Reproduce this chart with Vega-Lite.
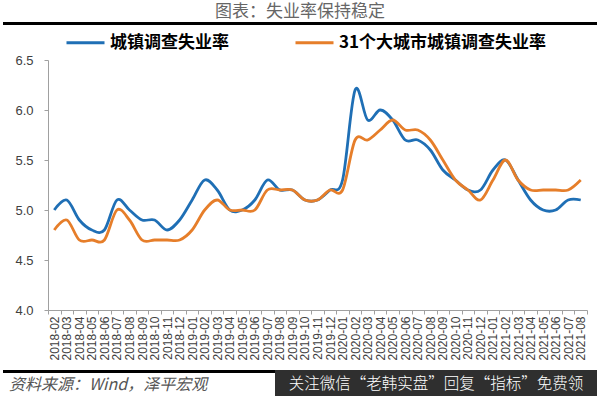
{
  "$schema": "https://vega.github.io/schema/vega-lite/v6.json",
  "background": "white",
  "padding": {"left": 3, "right": 3, "top": 3, "bottom": 0},
  "title": {"text": "图表：失业率保持稳定", "fontSize": 17, "font": "Noto Sans CJK SC", "fontWeight": "normal", "color": "#666666", "anchor": "middle", "offset": 1},
  "datasets": {
    "ue": [
      {"month": "2018-02", "series": "城镇调查失业率", "value": 5.0},
      {"month": "2018-03", "series": "城镇调查失业率", "value": 5.1},
      {"month": "2018-04", "series": "城镇调查失业率", "value": 4.9},
      {"month": "2018-05", "series": "城镇调查失业率", "value": 4.8},
      {"month": "2018-06", "series": "城镇调查失业率", "value": 4.8},
      {"month": "2018-07", "series": "城镇调查失业率", "value": 5.1},
      {"month": "2018-08", "series": "城镇调查失业率", "value": 5.0},
      {"month": "2018-09", "series": "城镇调查失业率", "value": 4.9},
      {"month": "2018-10", "series": "城镇调查失业率", "value": 4.9},
      {"month": "2018-11", "series": "城镇调查失业率", "value": 4.8},
      {"month": "2018-12", "series": "城镇调查失业率", "value": 4.9},
      {"month": "2019-01", "series": "城镇调查失业率", "value": 5.1},
      {"month": "2019-02", "series": "城镇调查失业率", "value": 5.3},
      {"month": "2019-03", "series": "城镇调查失业率", "value": 5.2},
      {"month": "2019-04", "series": "城镇调查失业率", "value": 5.0},
      {"month": "2019-05", "series": "城镇调查失业率", "value": 5.0},
      {"month": "2019-06", "series": "城镇调查失业率", "value": 5.1},
      {"month": "2019-07", "series": "城镇调查失业率", "value": 5.3},
      {"month": "2019-08", "series": "城镇调查失业率", "value": 5.2},
      {"month": "2019-09", "series": "城镇调查失业率", "value": 5.2},
      {"month": "2019-10", "series": "城镇调查失业率", "value": 5.1},
      {"month": "2019-11", "series": "城镇调查失业率", "value": 5.1},
      {"month": "2019-12", "series": "城镇调查失业率", "value": 5.2},
      {"month": "2020-01", "series": "城镇调查失业率", "value": 5.3},
      {"month": "2020-02", "series": "城镇调查失业率", "value": 6.2},
      {"month": "2020-03", "series": "城镇调查失业率", "value": 5.9},
      {"month": "2020-04", "series": "城镇调查失业率", "value": 6.0},
      {"month": "2020-05", "series": "城镇调查失业率", "value": 5.9},
      {"month": "2020-06", "series": "城镇调查失业率", "value": 5.7},
      {"month": "2020-07", "series": "城镇调查失业率", "value": 5.7},
      {"month": "2020-08", "series": "城镇调查失业率", "value": 5.6},
      {"month": "2020-09", "series": "城镇调查失业率", "value": 5.4},
      {"month": "2020-10", "series": "城镇调查失业率", "value": 5.3},
      {"month": "2020-11", "series": "城镇调查失业率", "value": 5.2},
      {"month": "2020-12", "series": "城镇调查失业率", "value": 5.2},
      {"month": "2021-01", "series": "城镇调查失业率", "value": 5.4},
      {"month": "2021-02", "series": "城镇调查失业率", "value": 5.5},
      {"month": "2021-03", "series": "城镇调查失业率", "value": 5.3},
      {"month": "2021-04", "series": "城镇调查失业率", "value": 5.1},
      {"month": "2021-05", "series": "城镇调查失业率", "value": 5.0},
      {"month": "2021-06", "series": "城镇调查失业率", "value": 5.0},
      {"month": "2021-07", "series": "城镇调查失业率", "value": 5.1},
      {"month": "2021-08", "series": "城镇调查失业率", "value": 5.1},
      {"month": "2018-02", "series": "31个大城市城镇调查失业率", "value": 4.8},
      {"month": "2018-03", "series": "31个大城市城镇调查失业率", "value": 4.9},
      {"month": "2018-04", "series": "31个大城市城镇调查失业率", "value": 4.7},
      {"month": "2018-05", "series": "31个大城市城镇调查失业率", "value": 4.7},
      {"month": "2018-06", "series": "31个大城市城镇调查失业率", "value": 4.7},
      {"month": "2018-07", "series": "31个大城市城镇调查失业率", "value": 5.0},
      {"month": "2018-08", "series": "31个大城市城镇调查失业率", "value": 4.9},
      {"month": "2018-09", "series": "31个大城市城镇调查失业率", "value": 4.7},
      {"month": "2018-10", "series": "31个大城市城镇调查失业率", "value": 4.7},
      {"month": "2018-11", "series": "31个大城市城镇调查失业率", "value": 4.7},
      {"month": "2018-12", "series": "31个大城市城镇调查失业率", "value": 4.7},
      {"month": "2019-01", "series": "31个大城市城镇调查失业率", "value": 4.8},
      {"month": "2019-02", "series": "31个大城市城镇调查失业率", "value": 5.0},
      {"month": "2019-03", "series": "31个大城市城镇调查失业率", "value": 5.1},
      {"month": "2019-04", "series": "31个大城市城镇调查失业率", "value": 5.0},
      {"month": "2019-05", "series": "31个大城市城镇调查失业率", "value": 5.0},
      {"month": "2019-06", "series": "31个大城市城镇调查失业率", "value": 5.0},
      {"month": "2019-07", "series": "31个大城市城镇调查失业率", "value": 5.2},
      {"month": "2019-08", "series": "31个大城市城镇调查失业率", "value": 5.2},
      {"month": "2019-09", "series": "31个大城市城镇调查失业率", "value": 5.2},
      {"month": "2019-10", "series": "31个大城市城镇调查失业率", "value": 5.1},
      {"month": "2019-11", "series": "31个大城市城镇调查失业率", "value": 5.1},
      {"month": "2019-12", "series": "31个大城市城镇调查失业率", "value": 5.2},
      {"month": "2020-01", "series": "31个大城市城镇调查失业率", "value": 5.2},
      {"month": "2020-02", "series": "31个大城市城镇调查失业率", "value": 5.7},
      {"month": "2020-03", "series": "31个大城市城镇调查失业率", "value": 5.7},
      {"month": "2020-04", "series": "31个大城市城镇调查失业率", "value": 5.8},
      {"month": "2020-05", "series": "31个大城市城镇调查失业率", "value": 5.9},
      {"month": "2020-06", "series": "31个大城市城镇调查失业率", "value": 5.8},
      {"month": "2020-07", "series": "31个大城市城镇调查失业率", "value": 5.8},
      {"month": "2020-08", "series": "31个大城市城镇调查失业率", "value": 5.7},
      {"month": "2020-09", "series": "31个大城市城镇调查失业率", "value": 5.5},
      {"month": "2020-10", "series": "31个大城市城镇调查失业率", "value": 5.3},
      {"month": "2020-11", "series": "31个大城市城镇调查失业率", "value": 5.2},
      {"month": "2020-12", "series": "31个大城市城镇调查失业率", "value": 5.1},
      {"month": "2021-01", "series": "31个大城市城镇调查失业率", "value": 5.3},
      {"month": "2021-02", "series": "31个大城市城镇调查失业率", "value": 5.5},
      {"month": "2021-03", "series": "31个大城市城镇调查失业率", "value": 5.3},
      {"month": "2021-04", "series": "31个大城市城镇调查失业率", "value": 5.2},
      {"month": "2021-05", "series": "31个大城市城镇调查失业率", "value": 5.2},
      {"month": "2021-06", "series": "31个大城市城镇调查失业率", "value": 5.2},
      {"month": "2021-07", "series": "31个大城市城镇调查失业率", "value": 5.2},
      {"month": "2021-08", "series": "31个大城市城镇调查失业率", "value": 5.3}
    ],
    "footer": [
      {"t": "关注微信“老韩实盘”回复“指标”免费领"}
    ]
  },
  "spacing": 29,
  "vconcat": [
    {
      "spacing": 0,
      "hconcat": [
        {
          "width": 594,
          "height": 3,
          "data": {"values": [{}]},
          "view": {"fill": "#000000", "stroke": null},
          "mark": {"type": "rect", "color": "#000000"},
          "encoding": {
            "x": {"datum": 0, "type": "quantitative", "scale": {"domain": [0, 1], "nice": false, "zero": false}, "axis": null},
            "x2": {"datum": 1},
            "y": {"datum": 0, "type": "quantitative", "scale": {"domain": [0, 1], "nice": false, "zero": false}, "axis": null},
            "y2": {"datum": 1}
          }
        }
      ]
    },
    {
      "spacing": 9,
      "vconcat": [
        {
          "spacing": 0,
          "hconcat": [
            {
              "width": 1,
              "height": 250,
              "data": {"values": []},
              "mark": {"type": "rect", "opacity": 0},
              "encoding": {}
            },
            {
              "width": 539,
              "height": 250,
              "data": {"name": "ue"},
              "mark": {"type": "line", "interpolate": "cardinal", "strokeWidth": 2.8},
              "encoding": {
                "x": {
                  "field": "month",
                  "type": "ordinal",
                  "bandPosition": 0.5,
                  "scale": {"type": "band", "paddingInner": 0, "paddingOuter": 0},
                  "axis": {
                    "title": null,
                    "labelAngle": 270,
                    "tickBand": "extent",
                    "labelFont": "Liberation Sans",
                    "labelFontSize": 12,
                    "labelColor": "#404040",
                    "labelPadding": 2,
                    "domainColor": "#a0a0a0",
                    "tickColor": "#a0a0a0",
                    "tickSize": 4,
                    "labelOverlap": false
                  }
                },
                "y": {
                  "field": "value",
                  "type": "quantitative",
                  "scale": {"domain": [4, 6.5], "zero": false, "nice": false},
                  "axis": {
                    "title": null,
                    "values": [4, 4.5, 5, 5.5, 6, 6.5],
                    "format": ".1f",
                    "grid": false,
                    "labelFont": "Liberation Sans",
                    "labelFontSize": 13,
                    "labelColor": "#404040",
                    "labelPadding": 11,
                    "domainColor": "#a0a0a0",
                    "tickColor": "#a0a0a0",
                    "tickSize": 4,
                    "minExtent": 44,
                    "maxExtent": 44
                  }
                },
                "color": {
                  "field": "series",
                  "type": "nominal",
                  "scale": {"domain": ["城镇调查失业率", "31个大城市城镇调查失业率"], "range": ["#1f6fb5", "#e67e2a"]},
                  "legend": {
                    "orient": "none",
                    "legendX": 62,
                    "legendY": 0,
                    "direction": "horizontal",
                    "title": null,
                    "symbolType": "stroke",
                    "symbolSize": 1444,
                    "symbolStrokeWidth": 3,
                    "labelFont": "Noto Sans CJK SC",
                    "labelFontSize": 17,
                    "labelFontWeight": "bold",
                    "labelColor": "#000000",
                    "labelOffset": 4,
                    "columnPadding": 60,
                    "labelLimit": 400
                  }
                }
              }
            }
          ]
        },
        {
          "spacing": 0,
          "hconcat": [
            {
              "width": 272,
              "height": 3,
              "data": {"values": []},
              "view": {"fill": "#000000", "stroke": null},
              "mark": {"type": "rect", "opacity": 0},
              "encoding": {},
              "title": {"text": "资料来源：Wind，泽平宏观", "orient": "bottom", "anchor": "start", "dx": 6, "fontSize": 16, "fontStyle": "italic", "fontWeight": "normal", "font": "Noto Sans CJK SC", "color": "#555555", "offset": 4}
            },
            {
              "width": 322,
              "height": 28,
              "data": {"name": "footer"},
              "view": {"fill": "#2f2f2f", "stroke": null},
              "mark": {"type": "text", "color": "#ffffff", "fontSize": 15.5, "font": "Noto Sans CJK SC", "fontWeight": 300},
              "encoding": {"text": {"field": "t"}}
            }
          ]
        }
      ]
    }
  ],
  "config": {
    "view": {"stroke": null}
  }
}
